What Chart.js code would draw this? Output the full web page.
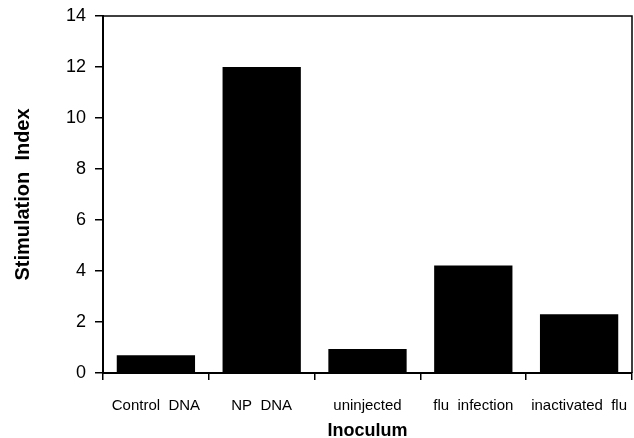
<!DOCTYPE html>
<html>
<head>
<meta charset="utf-8">
<script src="https://cdn.jsdelivr.net/npm/chart.js@4/dist/chart.umd.min.js"></script>
<style>
  html, body { margin: 0; padding: 0; background: #fff; }
  #wrap { width: 634px; height: 438px; }
</style>
</head>
<body>
<div id="wrap"><canvas id="c" width="634" height="438"></canvas></div>
<script>
const categories = ["Control  DNA", "NP  DNA", "uninjected", "flu  infection", "inactivated  flu"];
const stimulationIndex = [0.7, 12.0, 0.94, 4.22, 2.3];
const yTicks = [0, 2, 4, 6, 8, 10, 12, 14];
const xTitle = "Inoculum";
const yTitle = "Stimulation  Index";

const FONT = "'Liberation Sans', Arial, Helvetica, sans-serif";

const frame = {
  id: 'frame',
  afterDraw(chart) {
    const {ctx, chartArea: a} = chart;
    ctx.save();
    ctx.strokeStyle = '#000';
    ctx.lineWidth = 1.5;
    ctx.beginPath();
    ctx.moveTo(a.left, a.top);
    ctx.lineTo(a.right, a.top);
    ctx.lineTo(a.right, a.bottom);
    ctx.stroke();
    ctx.restore();
  }
};

new Chart(document.getElementById('c'), {
  type: 'bar',
  data: {
    labels: categories,
    datasets: [{
      data: stimulationIndex,
      backgroundColor: '#000',
      borderWidth: 0,
      categoryPercentage: 1,
      barPercentage: 0.74
    }]
  },
  options: {
    responsive: false,
    animation: false,
    devicePixelRatio: 1,
    layout: { padding: { top: 16, right: 2, left: 0, bottom: 0 } },
    plugins: { legend: { display: false }, tooltip: { enabled: false } },
    scales: {
      x: {
        offset: true,
        grid: { offset: true, drawOnChartArea: false, drawTicks: true, tickLength: 7, color: '#000', lineWidth: 1.5 },
        border: { display: true, color: '#000', width: 2 },
        ticks: { color: '#000', font: { family: FONT, size: 15 }, padding: 17, maxRotation: 0, autoSkip: false },
        title: { display: true, text: xTitle, color: '#000', font: { family: FONT, size: 18, weight: 'bold', lineHeight: 0.6 }, padding: { top: 0, bottom: 2 } },
        afterFit(s) { s.height = 65; s.paddingLeft = 0; s.paddingRight = 0; }
      },
      y: {
        min: 0, max: 14,
        afterBuildTicks(s) { s.ticks = yTicks.map(v => ({ value: v })); },
        grid: { drawOnChartArea: false, drawTicks: true, tickLength: 8, color: '#000', lineWidth: 1.5 },
        border: { display: true, color: '#000', width: 2 },
        ticks: { color: '#000', font: { family: FONT, size: 18 }, padding: 9 },
        title: { display: true, text: yTitle, color: '#000', font: { family: FONT, size: 20, weight: 'bold', lineHeight: 1.2 }, padding: { top: 11, bottom: 0 } },
        afterFit(s) { s.width = 103; s.paddingTop = 0; s.paddingBottom = 0; }
      }
    }
  },
  plugins: [frame]
});
</script>
</body>
</html>
